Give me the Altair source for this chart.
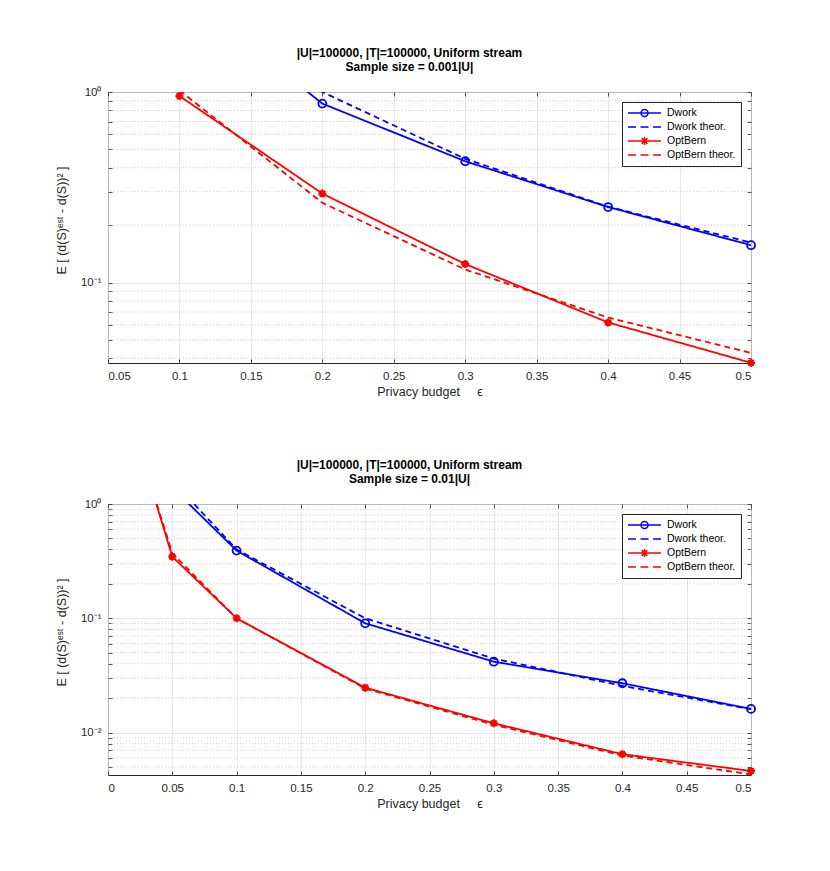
import altair as alt
import pandas as pd

FONT = "Liberation Sans"
SERIES = ["Dwork", "Dwork theor.", "OptBern", "OptBern theor."]
COLORS = ["#0000ff", "#0000ff", "#ff0000", "#ff0000"]
DASHES = [[1, 0], [6, 4], [1, 0], [6, 4]]

# ---- top panel: sample size = 0.001|U| ----
eps_top = [0.1, 0.2, 0.3, 0.4, 0.5]
dwork_top = [3.5, 0.869, 0.433, 0.249, 0.157]
dwork_theor_top = [4.0, 1.0, 0.446, 0.25, 0.162]
optbern_top = [0.953, 0.293, 0.125, 0.0617, 0.0379]
optbern_theor_top = [1.02, 0.262, 0.117, 0.0655, 0.0427]

# ---- bottom panel: sample size = 0.01|U| ----
eps_bot = [0.01, 0.05, 0.1, 0.2, 0.3, 0.4, 0.5]
dwork_bot = [35.0, 1.39, 0.391, 0.0904, 0.0417, 0.0270, 0.0161]
dwork_theor_bot = [40.0, 1.6, 0.4, 0.1, 0.0444, 0.0256, 0.0160]
optbern_bot = [10.6, 0.346, 0.100, 0.0247, 0.01205, 0.00646, 0.00461]
optbern_theor_bot = [10.0, 0.37, 0.100, 0.0243, 0.0117, 0.0063, 0.0043]

# ---- axes ----
x_ticks_top = [0.05, 0.1, 0.15, 0.2, 0.25, 0.3, 0.35, 0.4, 0.45, 0.5]
x_ticks_bot = [0, 0.05, 0.1, 0.15, 0.2, 0.25, 0.3, 0.35, 0.4, 0.45, 0.5]
y_major_top = [0.1, 1]
y_major_bot = [0.01, 0.1, 1]
y_minor_top = [0.04, 0.05, 0.06, 0.07, 0.08, 0.09,
               0.2, 0.3, 0.4, 0.5, 0.6, 0.7, 0.8, 0.9]
y_minor_bot = [0.005, 0.006, 0.007, 0.008, 0.009,
               0.02, 0.03, 0.04, 0.05, 0.06, 0.07, 0.08, 0.09,
               0.2, 0.3, 0.4, 0.5, 0.6, 0.7, 0.8, 0.9]
title_top = ["|U|=100000, |T|=100000, Uniform stream", "Sample size = 0.001|U|"]
title_bot = ["|U|=100000, |T|=100000, Uniform stream", "Sample size = 0.01|U|"]
x_title = "Privacy budget\u00a0\u00a0\u00a0\u00a0\u00a0\u03f5"
y_title = "E [ (d(S)\u1d49\u02e2\u1d57 - d(S))\u00b2 ]"

# marker / legend symbol paths
ASTERISK = "M0,-1V1M-1,0H1M-0.7,-0.7L0.7,0.7M-0.7,0.7L0.7,-0.7"
LEG_PATHS = [
    "M-3.3,0H3.3M-0.7,0A0.7,0.7 0 1,1 0.7,0A0.7,0.7 0 1,1 -0.7,0",
    "M-3.3,0H-1.7M-0.8,0H0.8M1.7,0H3.3",
    "M-3.3,0H3.3M0,-0.8V0.8M-0.8,0H0.8M-0.57,-0.57L0.57,0.57M-0.57,0.57L0.57,-0.57",
    "M-3.3,0H-1.7M-0.8,0H0.8M1.7,0H3.3",
]

Y_LABELS = ("datum.value >= 0.99 ? '10\u2070' : "
            "(datum.value >= 0.099 ? '10\u207b\u00b9' : '10\u207b\u00b2')")
TICK_LEN = 4


def long_df(eps, cols):
    rows = []
    for name, vals in zip(SERIES, cols):
        for e, v in zip(eps, vals):
            rows.append({"eps": e, "value": v, "series": name})
    return pd.DataFrame(rows)


def tick_axis(values, orient):
    # inward ticks only (MATLAB style box ticks)
    return alt.Axis(values=values, orient=orient, labels=False, grid=False,
                    domain=False, ticks=True, tickSize=TICK_LEN,
                    offset=-TICK_LEN, tickColor="#262626", tickWidth=0.8,
                    title=None)


def panel(df, x_dom, y_dom, xticks, ymajor, yminor, title):
    xscale = alt.Scale(domain=x_dom, nice=False, zero=False)
    yscale = alt.Scale(type="log", domain=y_dom, nice=False)
    yall = sorted(ymajor + yminor)

    x_main = alt.X("eps:Q", scale=xscale,
                   axis=alt.Axis(values=xticks, format=".2~f", title=x_title,
                                 grid=True, labelPadding=7, titlePadding=4))
    y_main = alt.Y("value:Q", scale=yscale,
                   axis=alt.Axis(values=ymajor, labelExpr=Y_LABELS, title=y_title,
                                 grid=True, labelPadding=7, titlePadding=6,
                                 titleX=-40, titleY=128))
    x_none = alt.X("eps:Q", scale=xscale, axis=None)
    y_none = alt.Y("value:Q", scale=yscale, axis=None)
    base = alt.Chart(df)

    layers = [alt.Chart(pd.DataFrame({"value": yminor})).mark_rule(
        color="#c4c4c4", strokeDash=[1, 2], strokeWidth=0.8
    ).encode(y=alt.Y("value:Q", scale=yscale, axis=tick_axis(yall, "right")))]

    enc = [
        (x_main, y_main),
        (alt.X("eps:Q", scale=xscale, axis=tick_axis(xticks, "top")),
         alt.Y("value:Q", scale=yscale, axis=tick_axis(yall, "left"))),
        (alt.X("eps:Q", scale=xscale, axis=tick_axis(xticks, "bottom")), y_none),
        (x_none, y_none),
    ]
    for (name, col, dash), (ex, ey) in zip(zip(SERIES, COLORS, DASHES), enc):
        layers.append(
            base.transform_filter(alt.datum.series == name)
            .mark_line(clip=True, strokeWidth=1.8, color=col, strokeDash=dash)
            .encode(x=ex, y=ey)
        )

    layers.append(base.transform_filter(
        "datum.series == 'Dwork' && datum.value <= 1"
    ).mark_point(shape="circle", size=64, filled=False, color="#0000ff",
                 strokeWidth=1.8, opacity=1).encode(x=x_none, y=y_none))
    layers.append(base.transform_filter(
        "datum.series == 'OptBern' && datum.value <= 1"
    ).mark_point(shape=ASTERISK, size=64, filled=False, color="#ff0000",
                 strokeWidth=2.2, opacity=1).encode(x=x_none, y=y_none))

    leg_props = dict(title=None)
    layers.append(base.transform_filter("datum.value <= 1").mark_point(
        filled=False, size=100, strokeWidth=1.5
    ).encode(
        x=x_none, y=y_none,
        color=alt.Color("series:N", scale=alt.Scale(domain=SERIES, range=COLORS),
                        legend=alt.Legend(**leg_props)),
        shape=alt.Shape("series:N", scale=alt.Scale(domain=SERIES, range=LEG_PATHS),
                        legend=alt.Legend(**leg_props)),
        opacity=alt.value(0),
    ))
    return alt.layer(*layers).resolve_axis(x="independent", y="independent").properties(
        width=643, height=271,
        title=alt.TitleParams(text=title, dx=-20, offset=12, lineHeight=14),
    )


top = panel(long_df(eps_top, [dwork_top, dwork_theor_top, optbern_top, optbern_theor_top]),
            [0.05, 0.5], [0.0378, 1], x_ticks_top, y_major_top, y_minor_top, title_top)
bot = panel(long_df(eps_bot, [dwork_bot, dwork_theor_bot, optbern_bot, optbern_theor_bot]),
            [0, 0.5], [0.00425, 1], x_ticks_bot, y_major_bot, y_minor_bot, title_bot)

chart = alt.vconcat(top, bot, spacing=59).resolve_scale(
    color="independent", shape="independent",
).resolve_legend(
    color="independent", shape="independent"
).properties(
    padding={"left": 46, "top": 38, "right": 5, "bottom": 5}
).configure_view(
    stroke="#262626", strokeWidth=1
).configure_axis(
    labelFont=FONT, titleFont=FONT, labelFontSize=11.5, titleFontSize=12.5,
    labelColor="#262626", titleColor="#262626", titleFontWeight="normal",
    domain=False, ticks=False, gridColor="#e0e0e0", gridWidth=0.8,
).configure_legend(
    orient="top-right", offset=10, fillColor="white", strokeColor="#262626",
    padding=5, labelFont=FONT, labelFontSize=10.5, labelColor="#000000",
    symbolSize=100, symbolStrokeWidth=1.5, symbolOffset=11.5, labelOffset=16.5,
    rowPadding=1, symbolFillColor="transparent",
).configure_title(
    font=FONT, fontSize=12, fontWeight="bold", color="#000000", anchor="middle",
)

chart.save("out.html", embed_options={"renderer": "svg", "actions": False})
